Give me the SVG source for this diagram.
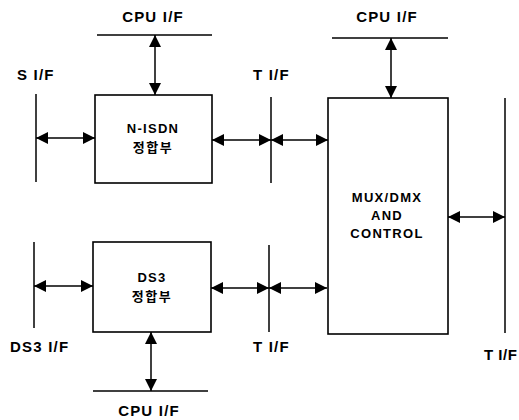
<svg xmlns="http://www.w3.org/2000/svg" width="519" height="420" viewBox="0 0 519 420">
<defs>
<marker id="ah" viewBox="0 0 12 12" refX="12" refY="6" markerWidth="12" markerHeight="12" markerUnits="userSpaceOnUse" orient="auto-start-reverse">
<path d="M0,0 L12,6 L0,12 z" fill="#000"/>
</marker>
<style>
.box{fill:#fff;stroke:#000;stroke-width:1.6}
.bus{stroke:#000;stroke-width:1.5;fill:none}
.arr{stroke:#000;stroke-width:1.5;fill:none;marker-start:url(#ah);marker-end:url(#ah)}
.lbl{font-family:"Liberation Sans",Arial,"Noto Sans CJK KR",sans-serif;font-weight:bold;font-size:15px;letter-spacing:1.2px;fill:#000}
.in{font-family:"Liberation Sans",Arial,"Noto Sans CJK KR",sans-serif;font-weight:bold;font-size:13px;letter-spacing:1.3px;fill:#000}
.ko{font-family:"Noto Sans CJK KR",sans-serif;font-weight:bold;font-size:13px;letter-spacing:1.5px;fill:#000}
</style>
</defs>
<rect width="519" height="420" fill="#fff"/>
<g id="buses">
<line class="bus" x1="97" y1="35" x2="212" y2="35"/>
<line class="bus" x1="332" y1="38" x2="448" y2="38"/>
<line class="bus" x1="36" y1="94" x2="36" y2="182"/>
<line class="bus" x1="271" y1="97" x2="271" y2="183"/>
<line class="bus" x1="505" y1="98" x2="505" y2="333"/>
<line class="bus" x1="34" y1="242" x2="34" y2="328"/>
<line class="bus" x1="269" y1="245" x2="269" y2="332"/>
<line class="bus" x1="93" y1="391" x2="208" y2="391"/>
</g>
<g id="nisdn">
<rect class="box" x="95" y="95" width="117" height="88"/>
<text class="in" x="153" y="133" text-anchor="middle">N-ISDN</text>
<text class="ko" x="153" y="152" text-anchor="middle">정합부</text>
</g>
<g id="ds3">
<rect class="box" x="93" y="242" width="118" height="90"/>
<text class="in" x="152" y="282" text-anchor="middle">DS3</text>
<text class="ko" x="152" y="301" text-anchor="middle">정합부</text>
</g>
<g id="mux">
<rect class="box" x="328" y="98" width="120" height="236"/>
<text class="in" x="387" y="202" text-anchor="middle">MUX/DMX</text>
<text class="in" x="387" y="220" text-anchor="middle">AND</text>
<text class="in" x="387" y="238" text-anchor="middle">CONTROL</text>
</g>
<g id="connectors">
<line class="arr" x1="155" y1="35" x2="155" y2="95"/>
<line class="arr" x1="391" y1="38" x2="391" y2="98"/>
<line class="arr" x1="36" y1="138" x2="95" y2="138"/>
<line class="arr" x1="212" y1="140" x2="271" y2="140"/>
<line class="arr" x1="271" y1="140" x2="328" y2="140"/>
<line class="arr" x1="448" y1="217" x2="505" y2="217"/>
<line class="arr" x1="34" y1="286" x2="93" y2="286"/>
<line class="arr" x1="211" y1="288" x2="269" y2="288"/>
<line class="arr" x1="269" y1="288" x2="327" y2="288"/>
<line class="arr" x1="151" y1="332" x2="151" y2="391"/>
</g>
<g id="labels">
<text class="lbl" x="153" y="22" text-anchor="middle">CPU I/F</text>
<text class="lbl" x="387" y="22" text-anchor="middle">CPU I/F</text>
<text class="lbl" x="17" y="80">S I/F</text>
<text class="lbl" x="253" y="80">T I/F</text>
<text class="lbl" x="10" y="352">DS3 I/F</text>
<text class="lbl" x="253" y="352">T I/F</text>
<text class="lbl" x="484" y="360" style="letter-spacing:0.5px">T I/F</text>
<text class="lbl" x="149" y="416" text-anchor="middle">CPU I/F</text>
</g>
</svg>
